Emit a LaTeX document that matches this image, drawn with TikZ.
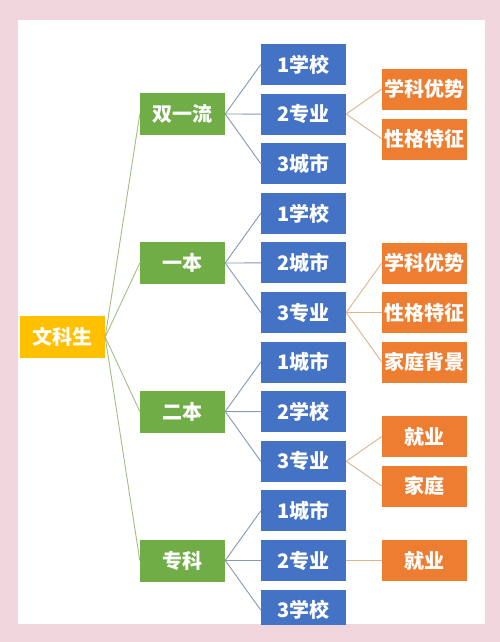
\documentclass[tikz,border=0pt]{standalone}
\usepackage{fontspec}
\newfontfamily\cjk{Noto Sans CJK SC}
\definecolor{pagepink}{HTML}{F1D5DC}
\definecolor{rootyellow}{HTML}{FFC000}
\definecolor{grpgreen}{HTML}{70AD47}
\definecolor{itemblue}{HTML}{4472C4}
\definecolor{tagorange}{HTML}{ED7D31}
\definecolor{greenline}{HTML}{A3BE88}
\definecolor{blueline}{HTML}{8598B8}
\definecolor{orangeline}{HTML}{DDB48E}
\begin{document}
\begin{tikzpicture}[x=1pt,y=-1pt,
    box/.style={minimum width=85pt,minimum height=41pt,inner sep=0pt,
      text=white,font=\cjk\bfseries\fontsize{20}{24}\selectfont},
    rootbox/.style={box,fill=rootyellow,minimum height=42pt},
    grpbox/.style={box,fill=grpgreen,minimum height=42pt},
    itembox/.style={box,fill=itemblue},
    tagbox/.style={box,fill=tagorange}]
  \fill[pagepink] (0,0) rectangle (500,642);
  \fill[white] (18,20) rectangle (485,624);
  \begin{scope}
    \clip (18,20) rectangle (485,624);
    \draw
      (62.5,337) node[rootbox] (r){文科生}
      (182.5,114) node[grpbox] (g1){双一流}
      (182.5,263) node[grpbox] (g2){一本}
      (182.5,411.5) node[grpbox] (g3){二本}
      (182.5,560.5) node[grpbox] (g4){专科};
    \draw
      (303.5,64.5) node[itembox] (b1){1学校}
      (303.5,114.1) node[itembox] (b2){2专业}
      (303.5,163.7) node[itembox] (b3){3城市}
      (303.5,213.3) node[itembox] (b4){1学校}
      (303.5,262.9) node[itembox] (b5){2城市}
      (303.5,312.5) node[itembox] (b6){3专业}
      (303.5,362.1) node[itembox] (b7){1城市}
      (303.5,411.7) node[itembox] (b8){2学校}
      (303.5,461.3) node[itembox] (b9){3专业}
      (303.5,510.9) node[itembox] (b10){1城市}
      (303.5,560.5) node[itembox] (b11){2专业}
      (303.5,610.1) node[itembox] (b12){3学校};
    \draw
      (424.5,89) node[tagbox] (o1){学科优势}
      (424.5,139) node[tagbox] (o2){性格特征}
      (424.5,263) node[tagbox] (o3){学科优势}
      (424.5,312.5) node[tagbox] (o4){性格特征}
      (424.5,362) node[tagbox] (o5){家庭背景}
      (424.5,436.5) node[tagbox] (o6){就业}
      (424.5,486) node[tagbox] (o7){家庭}
      (424.5,560.5) node[tagbox] (o8){就业};
    \begin{scope}[greenline,line width=0.9pt]
      \draw (r.east) to (g1.west);
      \draw (r.east) to (g2.west);
      \draw (r.east) to (g3.west);
      \draw (r.east) to (g4.west);
    \end{scope}
    \begin{scope}[blueline,line width=0.9pt]
      \draw (g1.east) to (b1.west);
      \draw (g1.east) to (b2.west);
      \draw (g1.east) to (b3.west);
      \draw (g2.east) to (b4.west);
      \draw (g2.east) to (b5.west);
      \draw (g2.east) to (b6.west);
      \draw (g3.east) to (b7.west);
      \draw (g3.east) to (b8.west);
      \draw (g3.east) to (b9.west);
      \draw (g4.east) to (b10.west);
      \draw (g4.east) to (b11.west);
      \draw (g4.east) to (b12.west);
    \end{scope}
    \begin{scope}[orangeline,line width=0.9pt]
      \draw (b2.east) to (o1.west);
      \draw (b2.east) to (o2.west);
      \draw (b6.east) to (o3.west);
      \draw (b6.east) to (o4.west);
      \draw (b6.east) to (o5.west);
      \draw (b9.east) to (o6.west);
      \draw (b9.east) to (o7.west);
      \draw (b11.east) to (o8.west);
    \end{scope}
  \end{scope}
\end{tikzpicture}
\end{document}
